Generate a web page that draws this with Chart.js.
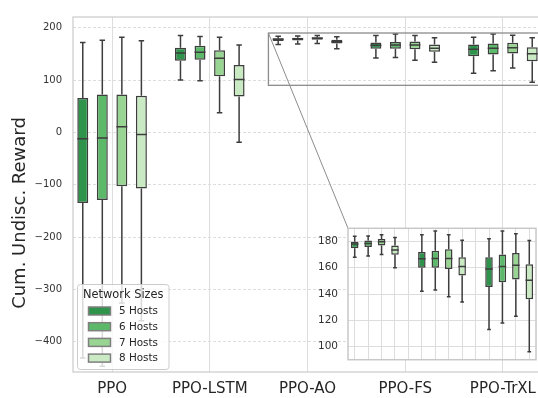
<!DOCTYPE html>
<html>
<head>
<meta charset="utf-8">
<title>Cumulative undiscounted reward by network size</title>
<style>
  body { margin: 0; overflow: hidden; background: #fff; }
  #wrap { position: relative; width: 538px; height: 398px; overflow: hidden; }
  #main { position: absolute; left: 0; top: 0; }
  #inset { position: absolute; left: 296px; top: 212px; }
</style>
</head>
<body>
<div id="wrap">
  <canvas id="main" width="546" height="398"></canvas>
  <canvas id="inset" width="246" height="164"></canvas>
</div>

<script src="https://cdn.jsdelivr.net/npm/chart.js@4.4.1/dist/chart.umd.min.js"></script>
<script>
// data
const categories = ['PPO', 'PPO-LSTM', 'PPO-AO', 'PPO-FS', 'PPO-TrXL'];
const hostLabels = ['5 Hosts', '6 Hosts', '7 Hosts', '8 Hosts'];
// each box: [whisker low, q1, median, q3, whisker high], one per category
const hosts5 = [[-431, -135, -12, 66, 172], [100, 137, 152, 162, 185], [168, 174.8, 178, 179.8, 184], [142, 160, 166.8, 172, 185], [113, 145.4, 159, 168, 182]];
const hosts6 = [[-447, -129, -10.5, 72.5, 176], [98.7, 139, 153, 165.5, 183.5], [169, 175.7, 178.5, 180.8, 184.2], [143, 160, 167, 173, 188], [118, 149, 161, 170, 188]];
const hosts7 = [[-326, -103, 11, 72.5, 182], [37.5, 107.5, 141.7, 157, 182], [170, 176.9, 179.8, 181.9, 185], [138, 159, 167, 174, 185], [123, 151, 161.8, 171.2, 185.8]];
const hosts8 = [[-360, -107, -4, 70, 175], [-19, 68.7, 101, 128.7, 167], [160, 169.8, 173.5, 177, 183], [134, 154, 161, 168, 181], [96, 136, 150.4, 162.7, 180.8]];
const yTicks = [-400, -300, -200, -100, 0, 100, 200];
const insetTicks = [100, 120, 140, 160, 180];
const zoomX = [1.6, 4.4];
const zoomY = [90, 190];

const hostColors = ['#2e944c', '#5db96a', '#98d492', '#c9eac3'];
const edgeColor = '#3d3d3d';
const gridColor = '#dddddd';
const boxSets = [hosts5, hosts6, hosts7, hosts8];

Chart.defaults.font.family = "'DejaVu Sans', sans-serif";

function makeDatasets() {
    return boxSets.map((boxes, d) => ({
        label: hostLabels[d],
        data: boxes.map((b, g) => ({ x: g + (d - 1.5) * 0.2, y: [b[1], b[3]], stats: b })),
        backgroundColor: hostColors[d],
        borderColor: edgeColor,
        borderWidth: 1.5,
        borderSkipped: false,
        grouped: false,
        categoryPercentage: 1,
        barPercentage: 0.56
    }));
}

// whiskers, caps and medians, placed on the bars the library laid out
const boxPlugin = {
    id: 'boxWhiskers',
    afterDatasetsDraw(chart) {
        const { ctx, chartArea: a, scales: { y } } = chart;
        ctx.save();
        ctx.beginPath();
        ctx.rect(a.left, a.top, a.width, a.height);
        ctx.clip();
        ctx.strokeStyle = edgeColor;
        ctx.lineWidth = 1.5;
        chart.data.datasets.forEach((ds, d) => {
            chart.getDatasetMeta(d).data.forEach((bar, i) => {
                const [lo, q1, med, q3, hi] = ds.data[i].stats;
                const cx = bar.x, half = bar.width / 2, cap = half / 2;
                const pLo = y.getPixelForValue(lo), pQ1 = y.getPixelForValue(q1);
                const pMed = y.getPixelForValue(med), pQ3 = y.getPixelForValue(q3);
                const pHi = y.getPixelForValue(hi);
                ctx.beginPath();
                ctx.moveTo(cx, pQ3); ctx.lineTo(cx, pHi);
                ctx.moveTo(cx, pQ1); ctx.lineTo(cx, pLo);
                ctx.moveTo(cx - cap, pHi); ctx.lineTo(cx + cap, pHi);
                ctx.moveTo(cx - cap, pLo); ctx.lineTo(cx + cap, pLo);
                ctx.moveTo(cx - half, pMed); ctx.lineTo(cx + half, pMed);
                ctx.stroke();
            });
        });
        ctx.restore();
    }
};

// inset: white plot area and frame
const insetDecor = {
    id: 'insetDecor',
    beforeDraw(chart) {
        const { ctx, chartArea: a } = chart;
        ctx.save();
        ctx.fillStyle = '#ffffff';
        ctx.fillRect(a.left, a.top, a.width, a.height);
        ctx.restore();
    },
    afterDraw(chart) {
        const { ctx, chartArea: a } = chart;
        ctx.save();
        ctx.strokeStyle = '#c8c8c8';
        ctx.lineWidth = 1.5;
        ctx.strokeRect(a.left, a.top, a.width, a.height);
        ctx.restore();
    }
};

const insetGrid = Array.from({ length: 14 }, (_, k) => 1.7 + 0.2 * k);

const insetChart = new Chart(document.getElementById('inset'), {
    type: 'bar',
    data: { datasets: makeDatasets() },
    options: {
        responsive: false,
        animation: false,
        layout: { padding: { top: 10, right: 6, bottom: 7, left: 0 } },
        plugins: { legend: { display: false }, tooltip: { enabled: false } },
        scales: {
            x: {
                type: 'linear', min: zoomX[0], max: zoomX[1], offset: false,
                afterBuildTicks: s => { s.ticks = insetGrid.map(v => ({ value: v })); },
                ticks: { display: false },
                grid: { color: gridColor, lineWidth: 1, drawTicks: false, offset: false },
                border: { display: false },
                afterFit: s => { s.height = 0; }
            },
            y: {
                min: zoomY[0], max: zoomY[1],
                afterBuildTicks: s => { s.ticks = insetTicks.map(v => ({ value: v })); },
                ticks: { font: { size: 10.5 }, color: '#333333', padding: 10 },
                grid: { color: gridColor, lineWidth: 1, drawTicks: false },
                border: { display: false },
                afterFit: s => { s.width = 52; }
            }
        }
    },
    plugins: [insetDecor, boxPlugin]
});

// main: frame, zoom rectangle, connector, legend, y title
const mainDecor = {
    id: 'mainDecor',
    afterDraw(chart) {
        const { ctx, chartArea: a, scales: { x, y } } = chart;
        ctx.save();
        ctx.strokeStyle = '#cccccc';
        ctx.lineWidth = 1.25;
        ctx.strokeRect(a.left, a.top, a.width, a.height);

        const x0 = x.getPixelForValue(zoomX[0]), x1 = x.getPixelForValue(zoomX[1]);
        const y0 = y.getPixelForValue(zoomY[1]), y1 = y.getPixelForValue(zoomY[0]);
        ctx.strokeStyle = '#8c8c8c';
        ctx.lineWidth = 1.3;
        ctx.strokeRect(x0, y0, x1 - x0, y1 - y0);

        const insetEl = document.getElementById('inset');
        const ia = insetChart.chartArea;
        ctx.lineWidth = 1;
        ctx.beginPath();
        ctx.moveTo(x0, y0);
        ctx.lineTo(insetEl.offsetLeft + ia.left, insetEl.offsetTop + ia.top);
        ctx.stroke();

        // legend
        const lx = a.left + 4.5, ly = a.bottom - 87.5, lw = 91.5, lh = 85;
        ctx.fillStyle = 'rgba(255,255,255,0.8)';
        ctx.strokeStyle = '#cccccc';
        ctx.lineWidth = 1;
        ctx.beginPath();
        ctx.roundRect(lx, ly, lw, lh, 3);
        ctx.fill();
        ctx.stroke();
        ctx.fillStyle = '#262626';
        ctx.textBaseline = 'middle';
        ctx.textAlign = 'center';
        ctx.font = "11.4px 'DejaVu Sans'";
        ctx.fillText('Network Sizes', lx + lw / 2, ly + 10.5);
        ctx.textAlign = 'left';
        ctx.font = "10.4px 'DejaVu Sans'";
        hostLabels.forEach((lab, d) => {
            const ry = ly + 26.5 + d * 15.7;
            ctx.fillStyle = hostColors[d];
            ctx.fillRect(lx + 11, ry - 4, 22, 8);
            ctx.strokeStyle = '#7f7f7f';
            ctx.lineWidth = 1.5;
            ctx.strokeRect(lx + 11, ry - 4, 22, 8);
            ctx.fillStyle = '#262626';
            ctx.fillText(lab, lx + 41.5, ry + 0.5);
        });

        // y axis title
        ctx.translate(20, (a.top + a.bottom) / 2 + 18.5);
        ctx.rotate(-Math.PI / 2);
        ctx.textAlign = 'center';
        ctx.font = "18px 'DejaVu Sans'";
        ctx.fillStyle = '#262626';
        ctx.fillText('Cum. Undisc. Reward', 0, 0);
        ctx.restore();
    }
};

const mainChart = new Chart(document.getElementById('main'), {
    type: 'bar',
    data: { datasets: makeDatasets() },
    options: {
        responsive: false,
        animation: false,
        layout: { padding: { top: 9, right: 4, bottom: 0, left: 0 } },
        plugins: { legend: { display: false }, tooltip: { enabled: false } },
        scales: {
            x: {
                type: 'linear', min: -0.4, max: 4.4, offset: false,
                afterBuildTicks: s => { s.ticks = categories.map((c, i) => ({ value: i })); },
                ticks: { callback: v => categories[v], font: { size: 15 }, color: '#262626', padding: 8, autoSkip: false, maxRotation: 0 },
                grid: { color: gridColor, lineWidth: 1, drawTicks: false, offset: false },
                border: { display: false },
                afterFit: s => { s.height = 26; }
            },
            y: {
                min: -458, max: 220.6,
                afterBuildTicks: s => { s.ticks = yTicks.map(v => ({ value: v })); },
                ticks: { callback: v => String(v).replace('-', '\u2212'), font: { size: 10 }, color: '#333333', padding: 11 },
                grid: { color: gridColor, lineWidth: 1, drawTicks: false },
                border: { display: false, dash: [3, 2] },
                afterFit: s => { s.width = 73; }
            }
        }
    },
    plugins: [boxPlugin, mainDecor]
});
</script>
</body>
</html>
